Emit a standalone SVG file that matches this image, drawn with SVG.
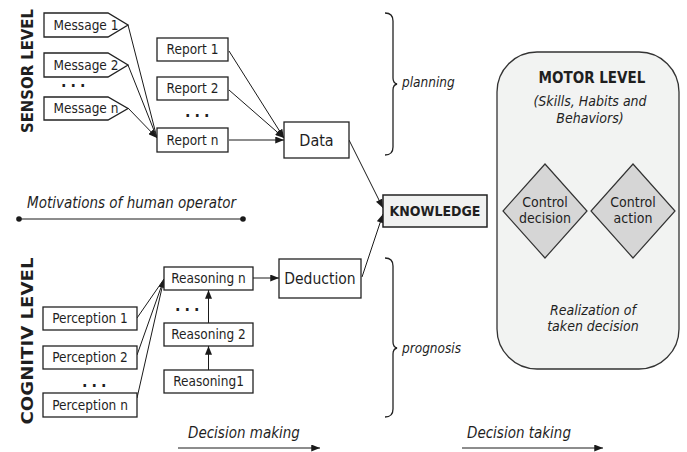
<svg xmlns="http://www.w3.org/2000/svg" width="687" height="452" viewBox="0 0 687 452">
<defs>
<marker id="ah" viewBox="0 0 10 8" refX="10" refY="4" markerWidth="9" markerHeight="7" markerUnits="userSpaceOnUse" orient="auto"><path d="M0,0 L10,4 L0,8 Z" fill="#1a1a1a"/></marker>
<style>
text{font-family:"DejaVu Sans Condensed","DejaVu Sans",sans-serif;font-stretch:condensed;fill:#1f1f1f}
.box{fill:#fff;stroke:#222;stroke-width:1.3}
.t{font-size:13.5px;text-anchor:middle}
.it{font-style:italic}
.b{font-weight:bold}
.dots{font-size:16px;font-weight:bold;letter-spacing:4px}
.c{fill:none;stroke:#1a1a1a;stroke-width:1}
.a{marker-end:url(#ah)}
.br{fill:none;stroke:#222;stroke-width:1.3}
.dia{fill:#d6d6d6;stroke:#333;stroke-width:1.2}
</style>
</defs>
<rect width="687" height="452" fill="#fff"/>

<text class="b" font-size="16" text-anchor="middle" textLength="124" lengthAdjust="spacingAndGlyphs" transform="translate(33,71) rotate(-90)">SENSOR LEVEL</text>
<text class="b" font-size="16" text-anchor="middle" textLength="167" lengthAdjust="spacingAndGlyphs" transform="translate(33,341) rotate(-90)">COGNITIV LEVEL</text>

<g id="connectors">
<line class="c" x1="128" y1="25" x2="157" y2="138"/>
<line class="c" x1="128" y1="65" x2="157" y2="138"/>
<line class="c a" x1="128" y1="108" x2="157" y2="138"/>
<line class="c a" x1="229" y1="51" x2="284" y2="138"/>
<line class="c a" x1="229" y1="90" x2="284" y2="138"/>
<line class="c a" x1="229" y1="140" x2="284" y2="140"/>
<line class="c a" x1="349" y1="140" x2="383" y2="208"/>
<line class="c a" x1="362" y1="277" x2="383" y2="214"/>
<line class="c a" x1="253" y1="278" x2="279" y2="278"/>
<line class="c" x1="137" y1="318" x2="164" y2="279"/>
<line class="c" x1="137" y1="355" x2="164" y2="279"/>
<line class="c a" x1="137" y1="398" x2="164" y2="279"/>
<line class="c a" x1="208.5" y1="370" x2="208.5" y2="346"/>
<line class="c a" x1="208.5" y1="323" x2="208.5" y2="290"/>
<line class="c" x1="19" y1="219" x2="243" y2="219" stroke-width="1.3"/>
<circle cx="19" cy="219" r="2.8" fill="#1a1a1a"/>
<circle cx="243" cy="219" r="2.8" fill="#1a1a1a"/>
<line class="c a" x1="178" y1="448" x2="320" y2="448"/>
<line class="c a" x1="462" y1="448" x2="603" y2="448"/>
</g>

<g id="message1"><path class="box" d="M44,13 H108 L128,25 L108,37 H44 Z"/><text class="t" x="86" y="30">Message 1</text></g>
<g id="message2"><path class="box" d="M44,53 H108 L128,65 L108,77 H44 Z"/><text class="t" x="86" y="70">Message 2</text></g>
<text class="dots" x="61" y="87">...</text>
<g id="messagen"><path class="box" d="M44,97 H108 L128,108.5 L108,120 H44 Z"/><text class="t" x="86" y="113">Message n</text></g>

<g id="report1"><rect class="box" x="157" y="38" width="71" height="23"/><text class="t" x="192.5" y="54">Report 1</text></g>
<g id="report2"><rect class="box" x="157" y="77" width="71" height="23"/><text class="t" x="192.5" y="93">Report 2</text></g>
<text class="dots" x="185" y="117">...</text>
<g id="reportn"><rect class="box" x="157" y="128" width="71" height="24"/><text class="t" x="192.5" y="145">Report n</text></g>

<g id="data"><rect class="box" x="284" y="122" width="65" height="36"/><text x="316.5" y="146" font-size="16" text-anchor="middle">Data</text></g>

<g id="knowledge"><rect x="383" y="195" width="104" height="32" fill="#f0f1f0" stroke="#222" stroke-width="1.5"/><text class="b" x="435" y="216" font-size="14" text-anchor="middle">KNOWLEDGE</text></g>

<g id="motivations"><text class="it" x="27" y="208" font-size="15">Motivations of human operator</text></g>

<g id="reasoningn"><rect class="box" x="164" y="267" width="89" height="23"/><text class="t" x="208.5" y="283">Reasoning n</text></g>
<text class="dots" x="175" y="311">...</text>
<g id="reasoning2"><rect class="box" x="164" y="323" width="89" height="23"/><text class="t" x="208.5" y="339">Reasoning 2</text></g>
<g id="reasoning1"><rect class="box" x="164" y="370" width="89" height="23"/><text class="t" x="208.5" y="386">Reasoning1</text></g>

<g id="deduction"><rect class="box" x="279" y="259" width="82" height="39"/><text x="320" y="284" font-size="15.5" text-anchor="middle">Deduction</text></g>

<g id="perception1"><rect class="box" x="43" y="307" width="94" height="23"/><text class="t" x="90" y="323">Perception 1</text></g>
<g id="perception2"><rect class="box" x="43" y="346" width="94" height="23"/><text class="t" x="90" y="362">Perception 2</text></g>
<text class="dots" x="82" y="387">...</text>
<g id="perceptionn"><rect class="box" x="43" y="393" width="94" height="24"/><text class="t" x="90" y="410">Perception n</text></g>

<g id="planning"><path class="br" d="M385,13 Q393,13 393,21 L393,78 Q393,83 397,84 Q393,85 393,90 L393,147 Q393,155 385,155"/><text class="it" x="402" y="87" font-size="13.5">planning</text></g>
<g id="prognosis"><path class="br" d="M385,258 Q393,258 393,266 L393,342 Q393,347 397,348 Q393,349 393,354 L393,409 Q393,417 385,417"/><text class="it" x="402" y="353" font-size="13.5">prognosis</text></g>

<g id="motor">
<rect x="497" y="52" width="182" height="317" rx="40" ry="40" fill="#f2f3f2" stroke="#333" stroke-width="1.3"/>
<text class="b" x="592" y="83" font-size="15" text-anchor="middle">MOTOR LEVEL</text>
<text class="it" x="590" y="106" font-size="14" text-anchor="middle">(Skills, Habits and</text>
<text class="it" x="590" y="123" font-size="14" text-anchor="middle">Behaviors)</text>
<text class="it" x="593" y="315" font-size="14" text-anchor="middle">Realization of</text>
<text class="it" x="593" y="331" font-size="14" text-anchor="middle">taken decision</text>
</g>
<g id="controldecision"><path class="dia" d="M545,164 L587,211 L545,258 L503,211 Z"/><text x="545" y="207" font-size="14" text-anchor="middle">Control</text><text x="545" y="223" font-size="14" text-anchor="middle">decision</text></g>
<g id="controlaction"><path class="dia" d="M633,164 L675,211 L633,258 L591,211 Z"/><text x="633" y="207" font-size="14" text-anchor="middle">Control</text><text x="633" y="223" font-size="14" text-anchor="middle">action</text></g>

<g id="labels">
<text class="it" x="188" y="438" font-size="15">Decision making</text>
<text class="it" x="467" y="438" font-size="15">Decision taking</text>
</g>
</svg>
